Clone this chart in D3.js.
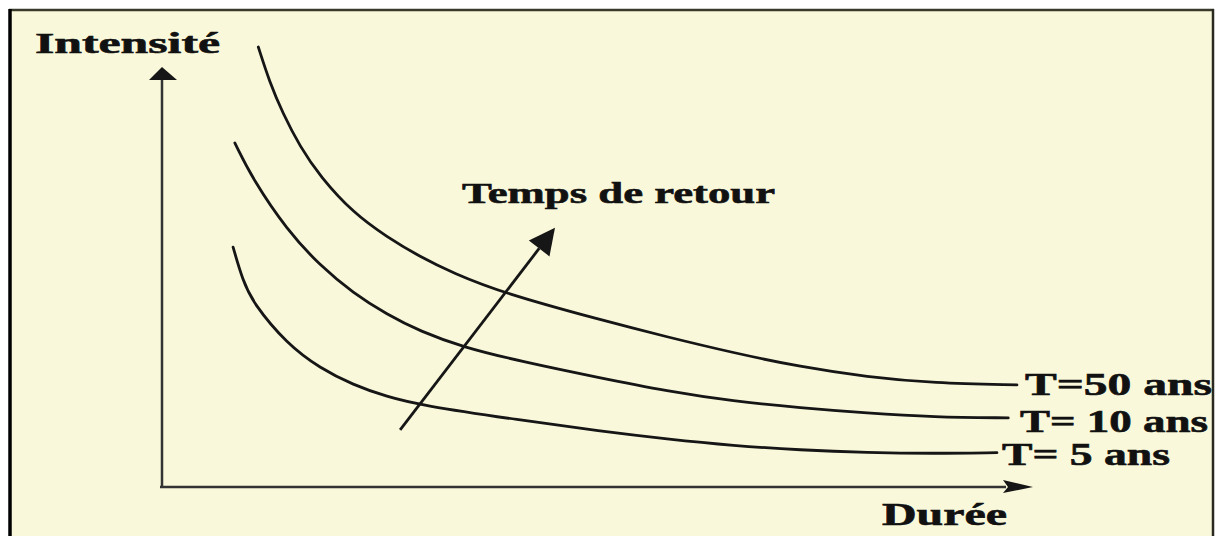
<!DOCTYPE html>
<html><head><meta charset="utf-8">
<script src="https://cdn.jsdelivr.net/npm/d3@7"></script>
<style>html,body{margin:0;padding:0;background:#fff;}svg{display:block;}</style>
</head><body>
<svg id="chart" width="1225" height="536"></svg>
<script>
// Schematic IDF curves: [durée, intensité] in arbitrary units (0-100)
const seriesNames = ["T=50 ans", "T= 10 ans", "T= 5 ans"];
const curveT50 = [[11.3,100],[12.6,92.0],[14.1,85.0],[16.1,77.3],[18.4,70.6],[22.2,62.3],[26.1,56.8],[29.9,52.3],[33.7,48.6],[39.4,44.1],[50.6,38.0],[58.3,34.1],[65.9,30.5],[73.6,27.3],[81.3,25.0],[88.9,23.6],[98.5,23.2]];
const curveT10 = [[8.6,78.2],[10.7,69.8],[14.6,58.4],[18.4,50.3],[22.2,44.1],[26.1,39.2],[29.9,35.4],[34.8,31.8],[41.4,28.6],[50.6,24.8],[58.3,21.8],[65.9,19.5],[73.6,18.0],[81.3,16.8],[88.9,15.9],[97.5,15.7]];
const curveT5 = [[8.4,54.5],[9.5,47.0],[10.7,41.8],[14.6,32.5],[18.4,27.0],[22.2,23.2],[26.1,20.5],[29.9,18.6],[41.4,15.2],[50.6,12.7],[58.3,10.9],[65.9,9.4],[73.6,8.4],[81.3,7.8],[88.9,7.6],[96.2,7.8]];
const returnArrow = [[27.6,13.0],[45.4,58.9]];
const axisTitles = ["Intensité", "Durée"];
const arrowLabel = "Temps de retour";

const svg = d3.select("#chart");
// frame
svg.append("rect").attr("x",10).attr("y",10).attr("width",1203).attr("height",540).attr("fill","#FAF8DA");
svg.append("line").attr("x1",9).attr("x2",1214).attr("y1",10).attr("y2",10).attr("stroke","#3a3a2a").attr("stroke-width",2.5);
svg.append("line").attr("x1",1213).attr("x2",1213).attr("y1",9).attr("y2",536).attr("stroke","#2a2a20").attr("stroke-width",2.5);
svg.append("line").attr("x1",10).attr("x2",10).attr("y1",9).attr("y2",536).attr("stroke","#000").attr("stroke-width",3.5);

const x = d3.scaleLinear().domain([0,100]).range([160,1030]);
const y = d3.scaleLinear().domain([0,100]).range([487,47]);

const ink = "#161616";
// axes
svg.append("line").attr("x1",x(0)).attr("x2",1006).attr("y1",y(0)).attr("y2",y(0)).attr("stroke","#333").attr("stroke-width",2.5);
svg.append("line").attr("x1",x(0)+2).attr("x2",x(0)+2).attr("y1",y(0)+1).attr("y2",78).attr("stroke","#333").attr("stroke-width",2.5);
svg.append("path").attr("d",`M1003,480 L1033,487 L1003,493 L1008,487 Z`).attr("fill",ink);
svg.append("path").attr("d",`M149,80 L162,67 L177,80 Z`).attr("fill",ink);

const line = d3.line().x(d=>x(d[0])).y(d=>y(d[1])).curve(d3.curveBasis);
[curveT50, curveT10, curveT5].forEach(c=>{
  svg.append("path").attr("d",line(c)).attr("fill","none").attr("stroke",ink).attr("stroke-width",2.8).attr("stroke-linecap","round");
});

// return period arrow
const [p0,p1] = returnArrow.map(d=>[x(d[0]),y(d[1])]);
const ang = Math.atan2(p1[1]-p0[1], p1[0]-p0[0]);
const L = 26, W = 13;
const bx = p1[0]-L*Math.cos(ang), by = p1[1]-L*Math.sin(ang);
svg.append("line").attr("x1",p0[0]).attr("y1",p0[1]).attr("x2",bx).attr("y2",by).attr("stroke",ink).attr("stroke-width",2.8);
const nx = -Math.sin(ang), ny = Math.cos(ang);
svg.append("path").attr("d",`M${p1[0]},${p1[1]} L${bx+nx*W},${by+ny*W} L${bx-nx*W},${by-ny*W} Z`).attr("fill",ink);

// texts
const font = "'Liberation Serif','Times New Roman',serif";
function txt(s, tx, ty, len, size){
  svg.append("text").attr("x",tx).attr("y",ty).attr("font-family",font).attr("font-weight","bold")
    .attr("font-size",size).attr("fill","#111").attr("stroke","#111").attr("stroke-width",0.6)
    .attr("textLength",len).attr("lengthAdjust","spacingAndGlyphs").text(s);
}
txt(axisTitles[0], 35, 53, 185, 30);
txt(axisTitles[1], 882, 525, 125, 31);
txt(arrowLabel, 462, 203, 313, 30);
const labelPos = [[1025,395,187],[1020,432,188],[1002,465,168]];
seriesNames.forEach((s,i)=>txt(s, labelPos[i][0], labelPos[i][1], labelPos[i][2], 31));
</script>
</body></html>
